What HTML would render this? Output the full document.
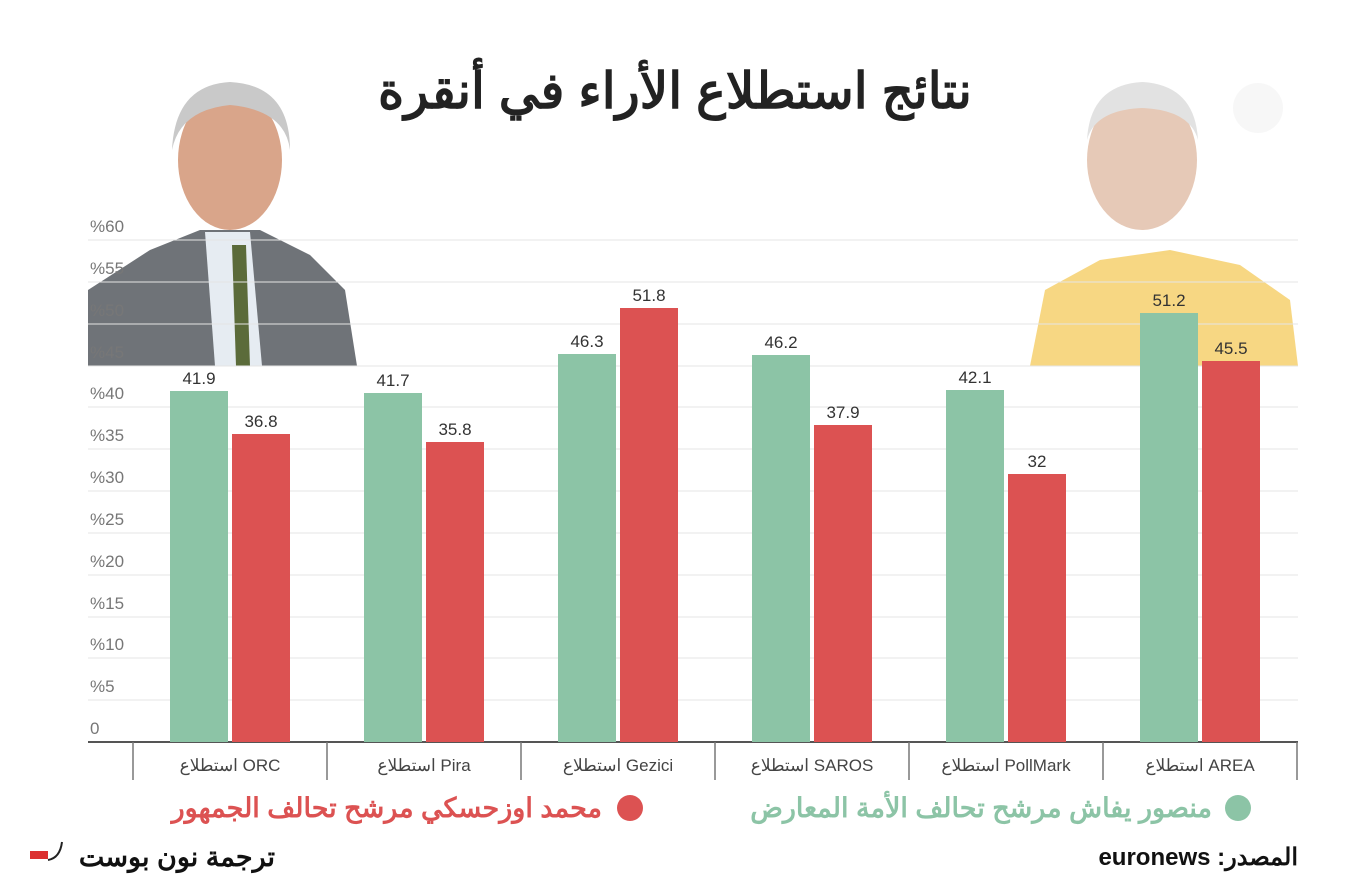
<!DOCTYPE html>
<html><head><meta charset="utf-8"><style>
body{margin:0;width:1350px;height:890px;background:#fff;overflow:hidden;font-family:"Liberation Sans","Noto Sans CJK SC",sans-serif;position:relative}
.a{position:absolute}
</style></head><body>
<svg class="a" style="left:0;top:0" width="1350" height="890">
<g>
<path d="M88 290 L150 250 L200 230 L260 230 L310 255 L345 290 L357 366 L88 366 Z" fill="#6f7378"/>
<path d="M205 232 L250 232 L262 366 L215 366 Z" fill="#e6ecf2"/>
<path d="M232 245 L246 245 L250 366 L236 366 Z" fill="#5b6b3a"/>
<ellipse cx="230" cy="160" rx="52" ry="70" fill="#d9a58a"/>
<path d="M172 150 Q175 85 230 82 Q290 85 290 150 Q285 110 230 105 Q180 110 172 150Z" fill="#c9c9c9"/>
</g>
<g opacity="0.7">
<path d="M1030 366 L1045 290 L1100 260 L1170 250 L1240 265 L1290 300 L1298 366 Z" fill="#f3c64e"/>
<ellipse cx="1142" cy="160" rx="55" ry="70" fill="#dcb399"/>
<path d="M1087 140 Q1090 85 1142 82 Q1195 85 1198 140 Q1190 110 1142 108 Q1095 110 1087 140Z" fill="#d7d7d7"/>
<circle cx="1258" cy="108" r="25" fill="#f4f4f4"/>
</g>
<g stroke="#e4e4e4" stroke-width="1">
<line x1="88" x2="1298" y1="240" y2="240"/><line x1="88" x2="1298" y1="282" y2="282"/><line x1="88" x2="1298" y1="324" y2="324"/><line x1="88" x2="1298" y1="366" y2="366"/><line x1="88" x2="1298" y1="407" y2="407"/><line x1="88" x2="1298" y1="449" y2="449"/><line x1="88" x2="1298" y1="491" y2="491"/><line x1="88" x2="1298" y1="533" y2="533"/><line x1="88" x2="1298" y1="575" y2="575"/><line x1="88" x2="1298" y1="617" y2="617"/><line x1="88" x2="1298" y1="658" y2="658"/><line x1="88" x2="1298" y1="700" y2="700"/>
</g>
<line x1="88" x2="1298" y1="742" y2="742" stroke="#555" stroke-width="2"/>
<g stroke="#777" stroke-width="1.5">
<line x1="133" x2="133" y1="742" y2="780"/><line x1="327" x2="327" y1="742" y2="780"/><line x1="521" x2="521" y1="742" y2="780"/><line x1="715" x2="715" y1="742" y2="780"/><line x1="909" x2="909" y1="742" y2="780"/><line x1="1103" x2="1103" y1="742" y2="780"/><line x1="1297" x2="1297" y1="742" y2="780"/>
</g>
<g font-family="Liberation Sans" font-size="17" fill="#777">
<text x="90" y="232">%60</text><text x="90" y="274">%55</text><text x="90" y="316">%50</text><text x="90" y="358">%45</text><text x="90" y="399">%40</text><text x="90" y="441">%35</text><text x="90" y="483">%30</text><text x="90" y="525">%25</text><text x="90" y="567">%20</text><text x="90" y="609">%15</text><text x="90" y="650">%10</text><text x="90" y="692">%5</text><text x="90" y="734">0</text>
</g>
<g fill="#8cc4a6">
<rect x="170" y="391" width="58" height="351"/><rect x="364" y="393" width="58" height="349"/><rect x="558" y="354" width="58" height="388"/><rect x="752" y="355" width="58" height="387"/><rect x="946" y="390" width="58" height="352"/><rect x="1140" y="313" width="58" height="429"/>
</g>
<g fill="#dc5252">
<rect x="232" y="434" width="58" height="308"/><rect x="426" y="442" width="58" height="300"/><rect x="620" y="308" width="58" height="434"/><rect x="814" y="425" width="58" height="317"/><rect x="1008" y="474" width="58" height="268"/><rect x="1202" y="361" width="58" height="381"/>
</g>
<g font-family="Liberation Sans" font-size="17" fill="#333" text-anchor="middle">
<text x="199" y="384">41.9</text><text x="261" y="427">36.8</text>
<text x="393" y="386">41.7</text><text x="455" y="435">35.8</text>
<text x="587" y="347">46.3</text><text x="649" y="301">51.8</text>
<text x="781" y="348">46.2</text><text x="843" y="418">37.9</text>
<text x="975" y="383">42.1</text><text x="1037" y="467">32</text>
<text x="1169" y="306">51.2</text><text x="1231" y="354">45.5</text>
</g>
<g font-family="Liberation Sans,Noto Sans CJK SC,sans-serif" font-size="17" fill="#444" text-anchor="middle">
<text x="230" y="771">استطلاع ORC</text><text x="424" y="771">استطلاع Pira</text><text x="618" y="771">استطلاع Gezici</text><text x="812" y="771">استطلاع SAROS</text><text x="1006" y="771">استطلاع PollMark</text><text x="1200" y="771">استطلاع AREA</text>
</g>
<text x="675" y="108" text-anchor="middle" font-family="Liberation Sans,Noto Sans CJK SC,sans-serif" font-size="50" font-weight="bold" fill="#222">نتائج استطلاع الأراء في أنقرة</text>
<circle cx="630" cy="808" r="13" fill="#dc5252"/>
<text x="602" y="817" text-anchor="end" font-family="Liberation Sans,Noto Sans CJK SC,sans-serif" font-size="27" font-weight="bold" fill="#dc5252">محمد اوزحسكي مرشح تحالف الجمهور</text>
<circle cx="1238" cy="808" r="13" fill="#8cc4a6"/>
<text x="1212" y="817" text-anchor="end" font-family="Liberation Sans,Noto Sans CJK SC,sans-serif" font-size="27" font-weight="bold" fill="#8cc4a6">منصور يفاش مرشح تحالف الأمة المعارض</text>
<text x="1298" y="865" direction="rtl" text-anchor="start" font-family="Liberation Sans,Noto Sans CJK SC,sans-serif" font-size="24" font-weight="bold" fill="#111">المصدر: euronews</text>
<text x="275" y="866" text-anchor="end" font-family="Liberation Sans,Noto Sans CJK SC,sans-serif" font-size="27" font-weight="bold" fill="#111">ترجمة نون بوست</text>
<rect x="30" y="851" width="18" height="8" fill="#dc3030"/>
<path d="M48 860 Q60 858 62 842" stroke="#222" stroke-width="2" fill="none"/>
</svg>
</body></html>
